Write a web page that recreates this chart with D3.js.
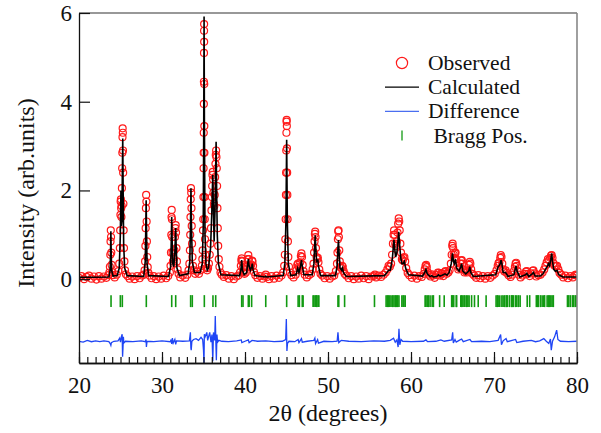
<!DOCTYPE html>
<html>
<head>
<meta charset="utf-8">
<script src="https://cdn.jsdelivr.net/npm/d3@7"></script>
<style>
    body { margin: 0; background: #fff; }
</style>
</head>
<body>
<div id="vis"></div>
<script>
// Rietveld refinement plot: observed points, calculated profile, difference and Bragg ticks

/* *************************** Data ***************************** */

// Observed intensities [2theta, I]
var observed = [
    [20.0,.03],[20.3,.07],[20.6,.0],[20.9,.05],[21.2,.08],[21.5,.01],[21.8,.06],[22.1,-.01],[22.4,.07],[22.7,.01],[23.0,.06],[23.3,.03],[23.55,.09],
    [23.66,.15],[23.72,.28],[23.77,.55],[23.8,.85],[23.83,1.1],[23.86,.95],[23.89,.6],[23.93,.32],[24.0,.16],[24.1,.09],
    [24.3,.04],[24.55,.1],[24.75,.18],
    [24.85,.35],[24.92,.7],[24.96,1.1],[24.99,1.45],[25.02,1.75],[25.05,1.8],[25.08,1.6],[25.11,1.4],[25.14,1.65],[25.17,2.05],[25.2,2.5],[25.22,2.85],[25.24,3.2],[25.26,3.4],[25.28,3.3],[25.3,2.9],[25.32,2.4],[25.35,1.7],[25.38,1.1],[25.42,.7],[25.47,.4],[25.55,.2],[25.65,.11],
    [25.85,.07],[26.1,.01],[26.4,.06],[26.7,.0],[27.0,.07],[27.3,.02],[27.6,.08],[27.8,.1],
    [27.9,.2],[27.96,.4],[28.0,.75],[28.03,1.15],[28.06,1.6],[28.09,1.9],[28.12,1.75],[28.15,1.3],[28.18,.85],[28.22,.5],[28.28,.27],[28.36,.14],[28.5,.08],
    [28.75,.02],[29.0,.07],[29.3,.0],[29.6,.06],[29.9,.01],[30.2,.08],[30.5,.02],[30.75,.07],[30.95,.15],
    [31.03,.3],[31.08,.6],[31.12,1.0],[31.15,1.4],[31.17,1.56],[31.2,1.35],[31.23,.95],[31.27,.6],[31.32,.4],[31.38,.35],[31.44,.45],[31.5,.65],[31.56,.95],[31.61,1.15],[31.65,1.22],[31.69,1.05],[31.74,.7],[31.8,.4],[31.88,.22],[32.0,.12],
    [32.2,.04],[32.5,.08],[32.8,.03],[33.05,.1],[33.2,.2],
    [33.3,.35],[33.36,.65],[33.4,1.0],[33.43,1.4],[33.46,1.8],[33.49,2.05],[33.52,1.95],[33.55,1.6],[33.58,1.2],[33.62,.8],[33.67,.5],[33.74,.3],[33.85,.2],
    [34.0,.12],[34.2,.17],[34.45,.12],[34.65,.2],
    [34.8,.3],[34.86,.45],[34.9,.65],[34.94,1.1],[34.97,1.35],[34.99,1.85],[35.01,2.5],[35.02,2.85],[35.03,3.3],[35.04,3.95],[35.05,4.45],[35.06,5.1],[35.07,5.6],[35.075,5.75],[35.08,5.35],[35.09,4.4],[35.1,3.45],[35.11,2.85],[35.13,1.85],[35.15,1.35],[35.18,.9],[35.22,.55],[35.28,.35],[35.35,.25],[35.45,.2],
    [35.55,.25],[35.65,.35],[35.75,.55],[35.83,.8],[35.9,1.15],[35.96,1.55],[36.0,1.85],[36.04,2.1],[36.08,2.35],[36.12,2.42],[36.16,2.25],[36.2,1.95],[36.25,1.7],[36.3,1.65],[36.35,1.9],[36.4,2.3],[36.44,2.6],[36.48,2.8],[36.52,2.9],[36.56,2.75],[36.6,2.5],[36.64,2.1],[36.68,1.6],[36.72,1.15],[36.77,.75],[36.84,.45],[36.92,.28],[37.05,.15],[37.2,.1],
    [37.45,.05],[37.75,.09],[38.05,.01],[38.35,.07],[38.65,.0],[38.95,.06],[39.2,.08],[39.4,.15],
    [39.5,.3],[39.56,.42],[39.6,.47],[39.65,.4],[39.72,.25],[39.8,.15],[39.95,.12],[40.1,.15],[40.25,.28],[40.33,.45],[40.4,.54],[40.47,.45],[40.55,.32],[40.65,.27],[40.75,.33],[40.85,.42],[40.9,.4],[40.97,.3],[41.08,.16],[41.25,.09],
    [41.5,.03],[41.8,.07],[42.1,.01],[42.35,.06],[42.5,.1],[42.65,.05],[42.9,.0],[43.2,.07],[43.5,.01],[43.8,.08],[44.1,.03],[44.4,.08],[44.6,.15],
    [44.72,.3],[44.8,.55],[44.86,.9],[44.9,1.35],[44.93,1.9],[44.95,2.4],[44.97,2.9],[44.99,3.3],[45.01,3.55],[45.02,3.59],[45.04,3.45],[45.06,2.95],[45.08,2.4],[45.1,1.9],[45.13,1.35],[45.17,.85],[45.22,.5],[45.3,.28],[45.42,.15],[45.6,.09],
    [45.85,.04],[46.1,.1],
    [46.2,.2],[46.3,.32],[46.38,.35],[46.46,.28],[46.55,.25],[46.65,.38],[46.73,.52],[46.8,.58],[46.87,.5],[46.95,.32],[47.05,.18],[47.2,.1],
    [47.45,.04],[47.7,.09],[47.95,.12],[48.15,.22],
    [48.25,.35],[48.32,.6],[48.38,.85],[48.42,1.02],[48.46,1.07],[48.5,.95],[48.55,.7],[48.62,.5],[48.7,.45],[48.78,.48],[48.85,.38],[48.95,.22],[49.1,.12],[49.3,.08],
    [49.6,.02],[49.9,.07],[50.2,.01],[50.5,.06],[50.75,.08],[50.95,.18],
    [51.08,.35],[51.14,.6],[51.19,.9],[51.23,1.08],[51.27,1.1],[51.31,.95],[51.36,.65],[51.42,.4],[51.5,.27],[51.6,.25],[51.7,.3],[51.78,.28],[51.88,.18],[52.0,.12],[52.2,.08],
    [52.5,.02],[52.8,.07],[53.1,.0],[53.4,.06],[53.7,.01],[54.0,.08],[54.3,.02],[54.6,.07],[54.9,.0],[55.2,.06],[55.5,.07],[55.65,.1],[55.8,.04],[56.1,.08],[56.4,.05],[56.7,.1],[56.95,.15],
    [57.15,.22],[57.3,.3],[57.45,.28],[57.6,.35],[57.72,.55],[57.82,.8],[57.9,1.0],[57.96,1.1],[58.02,1.0],[58.1,.8],[58.2,.75],[58.3,.85],[58.38,1.05],[58.45,1.25],[58.52,1.37],[58.58,1.3],[58.64,1.1],[58.72,.8],[58.8,.6],[58.9,.45],[59.0,.42],[59.1,.48],[59.2,.5],[59.3,.4],[59.42,.25],[59.6,.14],[59.8,.09],
    [60.1,.03],[60.4,.08],[60.7,.01],[61.0,.07],[61.3,.05],[61.55,.12],
    [61.65,.22],[61.75,.3],[61.82,.32],[61.9,.27],[62.0,.16],[62.15,.1],[62.35,.06],[62.5,.11],[62.65,.08],[62.85,.03],
    [63.1,.09],[63.25,.15],[63.35,.14],[63.5,.08],[63.65,.13],[63.75,.12],[63.9,.07],[64.05,.16],[64.15,.18],[64.3,.12],[64.5,.15],[64.65,.2],[64.8,.35],
    [64.9,.55],[64.97,.75],[65.02,.8],[65.08,.7],[65.15,.55],[65.22,.48],[65.3,.58],[65.37,.6],[65.45,.45],[65.55,.3],[65.7,.22],[65.85,.25],[65.95,.35],[66.05,.42],[66.12,.43],[66.2,.35],[66.3,.22],[66.45,.15],[66.6,.18],[66.75,.15],[66.9,.2],[67.0,.32],[67.08,.39],[67.15,.35],[67.25,.22],[67.4,.12],[67.6,.08],
    [67.85,.03],[68.1,.09],[68.35,.02],[68.65,.07],[68.95,.01],[69.25,.07],[69.55,.03],[69.85,.08],[70.1,.12],[70.3,.2],
    [70.45,.3],[70.55,.36],[70.65,.38],[70.75,.48],[70.82,.54],[70.9,.5],[71.0,.35],[71.1,.22],[71.25,.17],[71.4,.2],[71.55,.14],[71.75,.09],[72.0,.05],[72.2,.1],[72.4,.18],
    [72.52,.28],[72.6,.35],[72.67,.37],[72.75,.3],[72.85,.18],[73.0,.1],[73.2,.04],[73.45,.08],[73.7,.12],[73.85,.17],[73.95,.18],[74.1,.12],[74.3,.07],[74.5,.13],[74.65,.19],[74.75,.2],[74.9,.13],[75.1,.06],[75.35,.09],[75.6,.1],[75.85,.15],[76.05,.22],[76.2,.3],
    [76.35,.38],[76.5,.45],[76.65,.43],[76.78,.48],[76.88,.53],[76.95,.54],[77.05,.48],[77.15,.36],[77.3,.3],[77.45,.3],[77.6,.3],[77.75,.22],[77.9,.14],[78.1,.1],
    [78.35,.04],[78.6,.08],[78.9,.02],[79.2,.07],[79.5,.04],[79.75,.09],[79.9,.1],[80.0,.08]
];

// Calculated profile [2theta, I]
var calculated = [
    [20.0,.04],[23.6,.05],[23.75,.2],[23.8,.6],[23.84,1.08],[23.88,.6],[23.93,.2],[24.1,.07],[24.6,.08],[24.85,.25],[24.98,1.0],[25.05,2.0],[25.1,1.2],[25.16,1.3],[25.22,2.3],[25.27,3.17],[25.32,2.0],[25.38,.8],[25.5,.25],[25.8,.08],
    [27.8,.06],[27.98,.4],[28.05,1.2],[28.09,1.78],[28.13,1.2],[28.2,.35],[28.4,.08],
    [30.8,.06],[31.05,.3],[31.12,.9],[31.17,1.4],[31.22,.9],[31.3,.35],[31.42,.28],[31.55,.6],[31.61,.95],[31.65,1.15],[31.7,.8],[31.8,.25],[32.1,.08],
    [33.15,.12],[33.35,.4],[33.44,1.3],[33.49,2.05],[33.54,1.3],[33.65,.4],[33.9,.15],
    [34.6,.15],[34.85,.35],[34.97,1.2],[35.03,3.5],[35.07,5.92],[35.11,3.5],[35.18,1.0],[35.3,.35],[35.45,.2],[35.6,.25],[35.85,.7],[36.0,1.5],[36.08,2.1],[36.12,2.35],[36.17,1.8],[36.28,.85],[36.38,1.5],[36.47,2.5],[36.52,3.1],[36.57,2.2],[36.66,1.0],[36.8,.35],[37.1,.1],
    [39.35,.08],[39.5,.2],[39.6,.43],[39.7,.2],[39.9,.1],[40.2,.15],[40.33,.35],[40.4,.45],[40.48,.3],[40.65,.2],[40.8,.28],[40.88,.35],[40.96,.22],[41.2,.08],
    [42.4,.05],[42.5,.07],[42.6,.05],
    [44.6,.08],[44.8,.35],[44.93,1.3],[45.02,3.14],[45.1,1.3],[45.22,.35],[45.5,.08],
    [46.15,.1],[46.35,.25],[46.5,.15],[46.7,.3],[46.8,.43],[46.9,.3],[47.1,.1],
    [48.1,.1],[48.3,.35],[48.4,.8],[48.46,.99],[48.52,.75],[48.62,.4],[48.72,.42],[48.78,.45],[48.85,.3],[49.1,.08],
    [50.9,.08],[51.1,.3],[51.2,.7],[51.26,.88],[51.32,.65],[51.45,.25],[51.65,.2],[51.75,.25],[51.85,.15],[52.2,.06],
    [56.8,.08],[57.1,.15],[57.3,.2],[57.5,.2],[57.75,.45],[57.88,.75],[57.95,.88],[58.03,.7],[58.15,.5],[58.3,.6],[58.42,.85],[58.52,1.07],[58.6,.85],[58.75,.5],[58.9,.35],[59.05,.35],[59.2,.4],[59.35,.25],[59.7,.1],
    [61.4,.07],[61.65,.15],[61.8,.22],[61.95,.12],[62.3,.06],[62.5,.08],[62.7,.05],[63.1,.06],[63.3,.1],[63.5,.07],[63.75,.09],[64.1,.12],[64.35,.09],[64.6,.15],
    [64.85,.35],[65.0,.58],[65.12,.4],[65.22,.35],[65.35,.45],[65.5,.25],[65.8,.18],[66.0,.28],[66.1,.35],[66.25,.18],[66.6,.12],[66.95,.18],[67.08,.28],[67.2,.15],[67.5,.06],
    [70.2,.1],[70.5,.28],[70.62,.3],[70.75,.35],[70.85,.43],[70.95,.35],[71.1,.15],[71.4,.15],[71.7,.06],
    [72.4,.1],[72.55,.22],[72.65,.3],[72.78,.18],[73.1,.05],[73.8,.1],[73.95,.13],[74.2,.06],[74.6,.12],[74.75,.15],[74.95,.07],
    [75.6,.07],[75.9,.12],[76.2,.22],[76.45,.3],[76.55,.35],[76.7,.3],[76.85,.45],[76.95,.58],[77.05,.4],[77.2,.22],[77.4,.18],[77.6,.2],[77.8,.1],[78.3,.05],[79.8,.05],[80.0,.05]
];

// Difference (obs - calc), offset below the pattern [2theta, I]
var difference = [
    [20.0,-1.40],[20.5,-1.42],[21.0,-1.38],[21.5,-1.41],[22.0,-1.39],[22.5,-1.41],[23.0,-1.39],[23.6,-1.41],[23.78,-1.46],[23.84,-1.49],[23.9,-1.43],[24.2,-1.40],[24.7,-1.39],
    [24.9,-1.33],[25.0,-1.42],[25.1,-1.30],[25.2,-1.24],[25.25,-1.75],[25.3,-1.55],[25.35,-1.30],[25.4,-1.44],[25.6,-1.40],[26.5,-1.41],[27.5,-1.39],
    [28.0,-1.41],[28.08,-1.36],[28.12,-1.53],[28.2,-1.40],[29.0,-1.41],[30.0,-1.39],[31.0,-1.41],[31.1,-1.36],[31.17,-1.46],[31.25,-1.33],[31.35,-1.44],[31.55,-1.36],[31.65,-1.47],[31.75,-1.39],[32.5,-1.40],
    [33.3,-1.39],[33.42,-1.20],[33.48,-1.55],[33.52,-1.60],[33.6,-1.40],[33.8,-1.36],[34.1,-1.34],[34.4,-1.38],[34.7,-1.31],[34.9,-1.36],
    [35.0,-1.60],[35.06,-1.90],[35.1,-1.24],[35.2,-1.30],[35.4,-1.20],[35.5,-1.38],[35.75,-1.20],[35.9,-1.42],[36.02,-1.25],[36.12,-1.85],[36.2,-1.20],[36.35,-1.38],[36.42,-0.83],[36.5,-1.50],[36.55,-1.83],[36.62,-1.25],[36.7,-1.42],[36.85,-1.38],
    [37.2,-1.40],[38.0,-1.41],[39.0,-1.39],[39.55,-1.37],[39.62,-1.43],[40.0,-1.40],[40.4,-1.37],[40.5,-1.43],[40.85,-1.38],[41.5,-1.40],[42.5,-1.39],[43.5,-1.41],[44.5,-1.40],
    [44.9,-1.36],[44.98,-0.90],[45.05,-1.62],[45.12,-1.45],[45.3,-1.40],[46.0,-1.41],[46.4,-1.36],[46.5,-1.43],[46.8,-1.34],[46.9,-1.42],[47.5,-1.40],
    [48.3,-1.38],[48.42,-1.33],[48.5,-1.45],[48.75,-1.36],[48.85,-1.44],[49.5,-1.40],[50.5,-1.41],[51.1,-1.40],[51.2,-1.20],[51.3,-1.43],[51.6,-1.38],[52.5,-1.40],
    [54.0,-1.41],[55.5,-1.39],[56.8,-1.40],[57.5,-1.38],[57.9,-1.33],[58.1,-1.42],[58.3,-1.37],[58.45,-1.53],[58.55,-1.12],[58.65,-1.48],[58.8,-1.36],[59.0,-1.40],
    [60.0,-1.41],[61.5,-1.40],[61.8,-1.37],[62.0,-1.41],[63.0,-1.40],[63.6,-1.37],[64.0,-1.40],[64.9,-1.37],[65.02,-1.20],[65.1,-1.44],[65.3,-1.36],[65.45,-1.42],[65.8,-1.38],[66.1,-1.35],[66.3,-1.41],[67.1,-1.36],[67.3,-1.41],
    [68.5,-1.40],[69.5,-1.41],[70.5,-1.38],[70.8,-1.25],[70.9,-1.48],[71.1,-1.39],[71.45,-1.34],[71.6,-1.41],[72.6,-1.36],[72.75,-1.43],[73.5,-1.40],[74.5,-1.38],[75.0,-1.41],
    [75.5,-1.39],[76.0,-1.34],[76.3,-1.40],[76.6,-1.45],[76.8,-1.35],[76.9,-1.60],[77.05,-1.40],[77.3,-1.30],[77.55,-1.15],[77.7,-1.36],[78.0,-1.40],[79.0,-1.41],[80.0,-1.40]
];

// Bragg reflection positions (2theta)
var braggPositions = [
    23.86, 24.98, 25.22, 28.11, 31.17, 31.65, 33.45, 33.65, 35.1, 36.14, 36.47, 39.6, 39.76, 40.4, 40.5, 40.8,
    42.5, 45.02, 46.4, 46.55, 46.9, 47.0, 48.2, 48.3, 48.45, 48.55, 48.65, 48.8, 48.9, 51.2, 51.3, 52.0,
    55.6, 57.0, 57.15, 57.3, 57.45, 57.6, 57.8, 57.95, 58.1, 58.25, 58.4, 58.55, 58.9, 59.05, 59.15, 59.3,
    61.7, 61.8, 61.95, 62.1, 62.3, 62.55, 62.7, 63.45, 64.0, 64.9, 65.0, 65.15, 65.45, 65.5,
    66.0, 66.1, 66.25, 66.4, 66.5, 66.7, 66.85, 67.0, 67.3, 67.65, 68.1, 69.05,
    70.25, 70.4, 70.5, 70.7, 70.95, 71.1, 71.3, 71.5, 71.6, 71.85, 72.1, 72.2, 72.35, 72.6, 72.75, 72.95, 73.15,
    74.0, 74.3, 75.1, 75.25, 75.35, 75.6, 75.8, 76.0, 76.1, 76.4, 76.55, 76.7, 76.85, 77.0, 77.15,
    78.85, 79.0, 79.2, 79.45, 79.6, 79.8, 79.95
];

// Tick values and legend labels
var xMajorTicks = [20, 30, 40, 50, 60, 70, 80];
var yTicks = [0, 2, 4, 6];
var legendLabels = ['Observed', 'Calculated', 'Difference', ' Bragg Pos.'];

/* *************************** Settings ***************************** */

var width = 601;
var height = 433;
var serif = "'Liberation Serif', 'Times New Roman', Times, 'DejaVu Serif', serif";

var margin = {
    left: 79,
    top: 13,
    right: 24,
    bottom: 70
};

var drawWidth = width - margin.left - margin.right;
var drawHeight = height - margin.top - margin.bottom;

var xScale = d3.scaleLinear()
    .domain([20, 80])
    .range([0, drawWidth]);

var yScale = d3.scaleLinear()
    .domain([-1.89, 6])
    .range([drawHeight, 0]);

/* *************************** Static elements ***************************** */

var svg = d3.select('#vis')
    .append('svg')
    .attr('width', width)
    .attr('height', height);

svg.append('defs').append('clipPath')
    .attr('id', 'plot-clip')
    .append('rect')
    .attr('width', drawWidth)
    .attr('height', drawHeight);

var g = svg.append('g')
    .attr('transform', 'translate(' + margin.left + ',' + margin.top + ')');

var plot = g.append('g')
    .attr('clip-path', 'url(#plot-clip)');

// Observed points
plot.selectAll('circle.obs')
    .data(observed)
    .enter().append('circle')
    .attr('class', 'obs')
    .attr('cx', function(d) { return xScale(d[0]); })
    .attr('cy', function(d) { return yScale(d[1]); })
    .attr('r', 3.5)
    .attr('fill', 'none')
    .attr('stroke', '#ff1a1a')
    .attr('stroke-width', 1.2);

// Calculated profile
var line = d3.line()
    .x(function(d) { return xScale(d[0]); })
    .y(function(d) { return yScale(d[1]); });

plot.append('path')
    .datum(calculated)
    .attr('d', line)
    .attr('fill', 'none')
    .attr('stroke', '#000')
    .attr('stroke-width', 1.6);

// Difference curve
plot.append('path')
    .datum(difference)
    .attr('d', line)
    .attr('fill', 'none')
    .attr('stroke', '#1f45f5')
    .attr('stroke-width', 1.3);

// Bragg ticks
plot.selectAll('line.bragg')
    .data(braggPositions)
    .enter().append('line')
    .attr('class', 'bragg')
    .attr('x1', function(d) { return xScale(d); })
    .attr('x2', function(d) { return xScale(d); })
    .attr('y1', yScale(-0.36))
    .attr('y2', yScale(-0.63))
    .attr('stroke', '#119a11')
    .attr('stroke-width', 1.6);

/* *************************** Axes ***************************** */

// Frame: top and right
g.append('line')
    .attr('x1', 0).attr('x2', drawWidth)
    .attr('y1', 0).attr('y2', 0)
    .attr('stroke', '#333').attr('stroke-width', 1.2);

g.append('line')
    .attr('x1', drawWidth).attr('x2', drawWidth)
    .attr('y1', 0).attr('y2', drawHeight)
    .attr('stroke', '#888').attr('stroke-width', 1.6);

// Minor x ticks every degree
var xMinor = d3.axisBottom(xScale)
    .tickValues(d3.range(20, 81, 1))
    .tickSizeInner(-6)
    .tickSizeOuter(0)
    .tickFormat('');

g.append('g')
    .attr('class', 'axis')
    .attr('transform', 'translate(0,' + drawHeight + ')')
    .call(xMinor);

// Major x ticks with labels
var xAxis = d3.axisBottom(xScale)
    .tickValues(xMajorTicks)
    .tickSizeInner(-11)
    .tickSizeOuter(0)
    .tickPadding(14)
    .tickFormat(d3.format('d'));

g.append('g')
    .attr('class', 'axis')
    .attr('transform', 'translate(0,' + drawHeight + ')')
    .call(xAxis);

var yAxis = d3.axisLeft(yScale)
    .tickValues(yTicks)
    .tickSizeInner(-11)
    .tickSizeOuter(0)
    .tickPadding(7)
    .tickFormat(d3.format('d'));

g.append('g')
    .attr('class', 'axis')
    .call(yAxis);

g.selectAll('.axis path')
    .attr('stroke', '#111')
    .attr('stroke-width', 1.3);

g.selectAll('.axis line')
    .attr('stroke', '#111')
    .attr('stroke-width', 1.2);

g.selectAll('.axis text')
    .style('font-size', '23px');

// Axis titles
svg.append('text')
    .attr('x', margin.left + drawWidth / 2)
    .attr('y', 421)
    .attr('text-anchor', 'middle')
    .style('font-size', '24px')
    .text('2\u03b8 (degrees)');

svg.append('text')
    .attr('transform', 'translate(34,' + (margin.top + 180) + ') rotate(-90)')
    .attr('text-anchor', 'middle')
    .style('font-size', '24px')
    .text('Intensity (arb.units)');

/* *************************** Legend ***************************** */

var legend = svg.append('g')
    .attr('transform', 'translate(402,63)');

var rowGap = 24.2;

legend.append('circle')
    .attr('cx', 0).attr('cy', 0)
    .attr('r', 5.6)
    .attr('fill', 'none')
    .attr('stroke', '#ff1a1a')
    .attr('stroke-width', 1.2);

legend.append('line')
    .attr('x1', -17).attr('x2', 17)
    .attr('y1', rowGap).attr('y2', rowGap)
    .attr('stroke', '#000').attr('stroke-width', 1.3);

legend.append('line')
    .attr('x1', -17).attr('x2', 17)
    .attr('y1', rowGap * 2).attr('y2', rowGap * 2)
    .attr('stroke', '#4a6ef0').attr('stroke-width', 1.3);

legend.append('line')
    .attr('x1', 0).attr('x2', 0)
    .attr('y1', rowGap * 3 - 5).attr('y2', rowGap * 3 + 5)
    .attr('stroke', '#119a11').attr('stroke-width', 1.3);

legend.selectAll('text')
    .data(legendLabels)
    .enter().append('text')
    .attr('x', 26)
    .attr('y', function(d, i) { return i * rowGap + 7; })
    .style('white-space', 'pre')
    .style('font-size', '21.5px')
    .text(function(d) { return d; });

// Same serif face for every label
svg.selectAll('text')
    .style('font-family', serif)
    .style('fill', '#111');
</script>
</body>
</html>
